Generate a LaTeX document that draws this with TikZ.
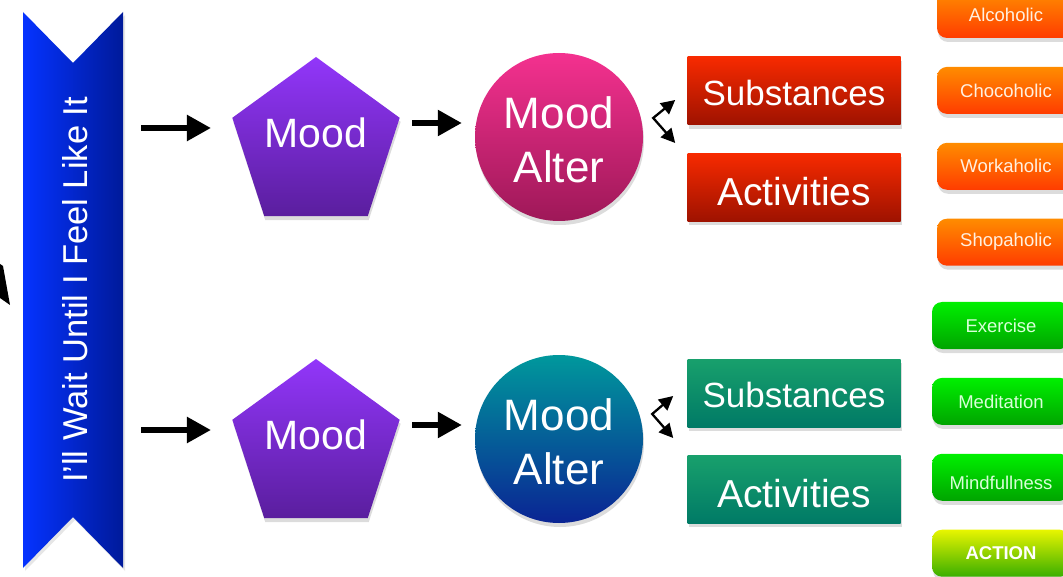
\documentclass[tikz,border=0pt]{standalone}
\usepackage{fontspec}
\setmainfont{Liberation Sans}
\usetikzlibrary{arrows.meta}
\usetikzlibrary{positioning}
\usetikzlibrary{shapes.geometric}
\usetikzlibrary{shadows}
\definecolor{bannerL}{HTML}{0533FF}
\definecolor{bannerR}{HTML}{001A9A}
\definecolor{moodT}{HTML}{9236FA}
\definecolor{moodB}{HTML}{5A1E9E}
\definecolor{pinkT}{HTML}{F4318F}
\definecolor{pinkB}{HTML}{9E1858}
\definecolor{tealT}{HTML}{00989C}
\definecolor{tealB}{HTML}{0A2494}
\definecolor{redT}{HTML}{F72A00}
\definecolor{redB}{HTML}{9E1200}
\definecolor{greenT}{HTML}{18A06C}
\definecolor{greenB}{HTML}{007A66}
\definecolor{orangeT}{HTML}{FF8C00}
\definecolor{orangeB}{HTML}{FF3C00}
\definecolor{limeT}{HTML}{00F000}
\definecolor{limeB}{HTML}{00A400}
\definecolor{actT}{HTML}{E8F500}
\definecolor{actB}{HTML}{3AAE00}
\begin{document}
\begin{tikzpicture}[x=1pt,y=-1pt,node distance=28.5pt,
  softshadow/.style={drop shadow={opacity=0.28,shadow xshift=1pt,shadow yshift=-4pt}},
  moodshape/.style={regular polygon,regular polygon sides=5,minimum size=176pt,inner sep=0pt,top color=moodT,bottom color=moodB,softshadow},
  moodtext/.style={text=white,font=\fontsize{41}{48}\selectfont,yshift=12pt},
  alterball/.style={circle,minimum size=168pt,inner sep=0pt,softshadow},
  altertext/.style={text=white,align=center,font=\fontsize{44}{54}\selectfont,yshift=-3pt},
  choicebox/.style={rectangle,minimum width=213pt,minimum height=68pt,inner sep=0pt,text=white,text depth=0pt,softshadow},
  substext/.style={font=\fontsize{35}{40}\selectfont,text height=29pt},
  acttext/.style={font=\fontsize{39}{44}\selectfont,text height=37pt},
  habitbtn/.style={rectangle,rounded corners=10pt,minimum width=138pt,minimum height=47pt,inner sep=0pt,font=\fontsize{18.5}{20}\selectfont,softshadow},
  orangebtn/.style={habitbtn,top color=orangeT,bottom color=orangeB,text=white!88!orange},
  greenbtn/.style={habitbtn,top color=limeT,bottom color=limeB,text=white!85!green},
  bigarrow/.style={line width=5.5pt,-{Triangle[length=24pt,width=25pt]}},
  forkarrow/.style={line width=2.3pt,{Triangle[length=14pt,width=14pt]}-{Triangle[length=14pt,width=14pt]}}]
  \clip (0,0) rectangle (1063,577);
  \path[left color=bannerL,right color=bannerR,drop shadow={opacity=0.2,shadow xshift=2pt,shadow yshift=-3pt}]
    (23,12) -- (73,63) -- (123,12) -- (123,568) -- (73,517) -- (23,568) -- cycle;
  \node[rotate=90,text=white,font=\fontsize{34.5}{40}\selectfont] (banner) at (75,290) {I’ll Wait Until I Feel Like It};
  \fill (0,264) -- (3,266) -- (10,305) -- (0,298) -- cycle;
  \node[moodshape] (mood1) at (316,145) [label={[moodtext]center:Mood}]{};
  \node[moodshape] (mood2) at (316,447) [label={[moodtext]center:Mood}]{};
  \node[alterball,top color=pinkT,bottom color=pinkB] (alter1) at (559,137) [label={[altertext]center:Mood\\Alter}]{};
  \node[alterball,top color=tealT,bottom color=tealB] (alter2) at (559,439) [label={[altertext]center:Mood\\Alter}]{};
  \node[choicebox,substext,top color=redT,bottom color=redB] (subs1) at (794,91) {Substances};
  \node[choicebox,acttext,top color=redT,bottom color=redB,below=28pt of subs1] (act1) {Activities};
  \node[choicebox,substext,top color=greenT,bottom color=greenB] (subs2) at (794,393) {Substances};
  \node[choicebox,acttext,top color=greenT,bottom color=greenB,below=28pt of subs2] (act2) {Activities};
  \node[orangebtn] (alco) at (1006,14.5) {Alcoholic};
  \node[orangebtn,below=of alco] (choco) {Chocoholic};
  \node[orangebtn,below=of choco] (work) {Workaholic};
  \node[orangebtn,below=of work] (shop) {Shopaholic};
  \node[greenbtn] (exer) at (1001,325.5) {Exercise};
  \node[greenbtn,below=of exer] (medi) {Meditation};
  \node[greenbtn,text height=25pt,text depth=0pt,below=of medi] (mind) {Mindfullness};
  \node[habitbtn,top color=actT,bottom color=actB,text=white,font=\fontsize{18.5}{20}\selectfont\bfseries,below=of mind] (action) {ACTION};
  \coordinate (in1) at (141,128);
  \coordinate (in2) at (141,430);
  \coordinate (out1) at ([yshift=22pt]mood1.east);
  \coordinate (out2) at ([yshift=22pt]mood2.east);
  \coordinate (fork1) at ([xshift=10pt,yshift=19pt]alter1.east);
  \coordinate (fork2) at ([xshift=9pt,yshift=25pt]alter2.east);
  \draw[bigarrow,shorten >=30pt] (in1) -- (in1 -| mood1.west);
  \draw[bigarrow,shorten >=30pt] (in2) -- (in2 -| mood2.west);
  \draw[bigarrow,shorten <=21pt,shorten >=13pt] (out1) -- (out1 -| alter1.west);
  \draw[bigarrow,shorten <=21pt,shorten >=13pt] (out2) -- (out2 -| alter2.west);
  \draw[forkarrow] ([shift={(22pt,18pt)}]fork1) -- (fork1) -- ([shift={(22pt,-25pt)}]fork1);
  \draw[forkarrow] ([shift={(21pt,18pt)}]fork2) -- (fork2) -- ([shift={(21pt,-24pt)}]fork2);
\end{tikzpicture}
\end{document}
